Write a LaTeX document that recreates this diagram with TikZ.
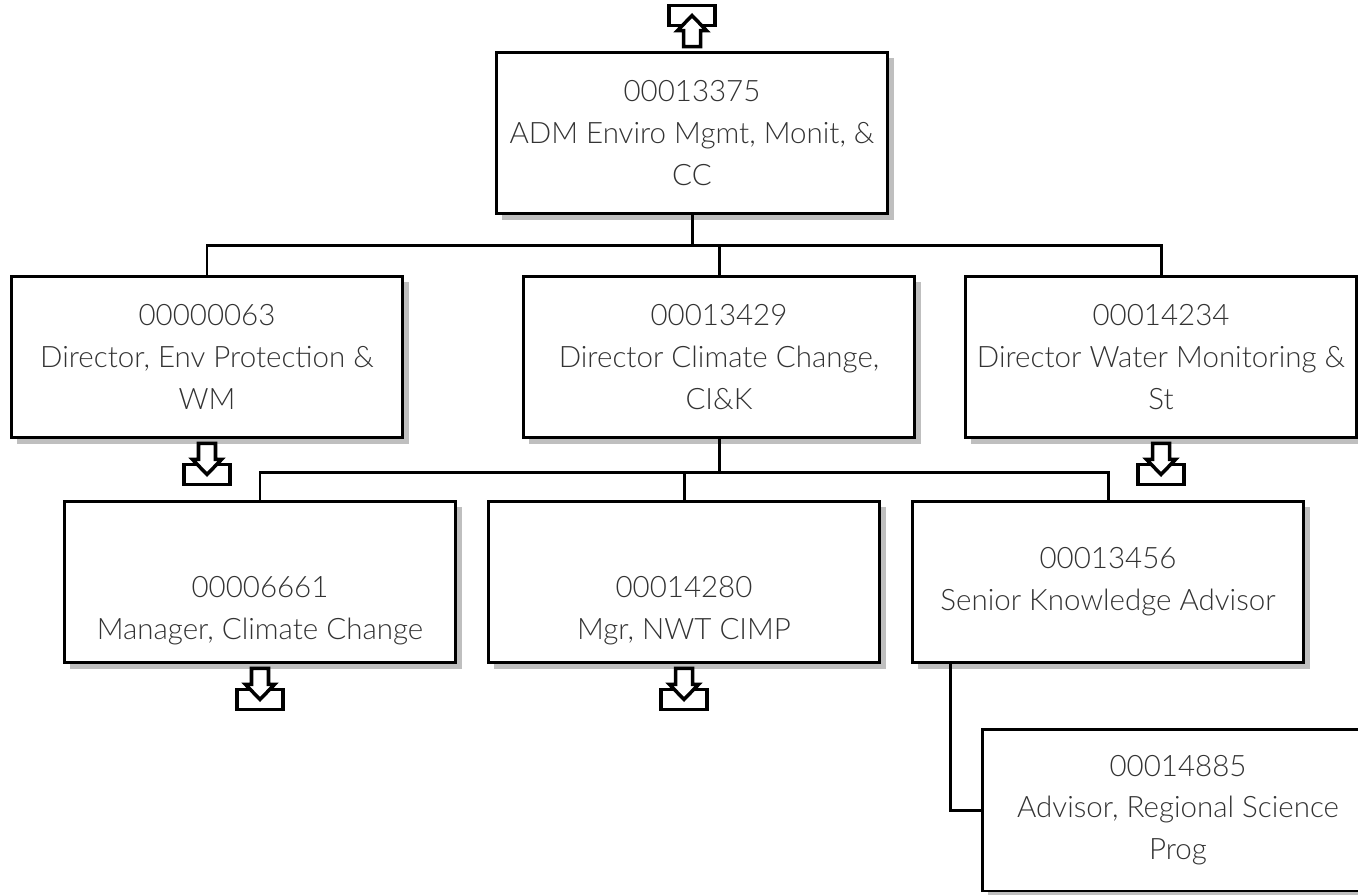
\documentclass[tikz,border=0pt]{standalone}
\usepackage{fontspec}
\setmainfont{Lato}[UprightFont=* Light]
\usetikzlibrary{shadows}

% collapsed-branch mark under (1) or over (-1) a position box
\newcommand{\foldmark}[2]{%
  \begin{scope}[shift={(#1)}, yscale=#2, line width=2pt]
    \draw[fill=white] (-23,25) rectangle (23,45);
    \draw[fill=white] (-8.5,4) -- (8.5,4) -- (8.5,20) -- (14.5,20) -- (0,35)
      -- (-14.5,20) -- (-8.5,20) -- cycle;
  \end{scope}}

\begin{document}
\begin{tikzpicture}[x=0.02cm, y=-0.02cm]
    \tikzstyle{posn} = [rectangle, draw, line width=1.7pt, fill=white,
      minimum width=7.84cm, minimum height=3.24cm, align=center, text=black!80,
      font=\fontsize{16.8}{23.8}\selectfont,
      drop shadow={shadow xshift=0.12cm, shadow yshift=-0.12cm, fill=black!25, opacity=1}]
    \tikzstyle{link} = [line width=1.7pt]

    \useasboundingbox (0,0) rectangle (1358,895);
    \clip (0,0) rectangle (1358,895);

    \node [posn] (p13375) at (692,133) {00013375\\ADM Enviro Mgmt, Monit, \&\\CC};
    \node [posn] (p0063) at (207,357) {00000063\\Director, Env Protection \&\\WM};
    \node [posn] (p13429) at (719,357) {00013429\\Director Climate Change,\\CI\&K};
    \node [posn] (p14234) at (1161,357) {00014234\\Director Water Monitoring \&\\St};
    \node [posn] (p6661) at (260,582) {\mbox{}\\[0.72cm]00006661\\Manager, Climate Change};
    \node [posn] (p14280) at (684,582) {\mbox{}\\[0.72cm]00014280\\Mgr, NWT CIMP};
    \node [posn] (p13456) at (1108,582) {00013456\\Senior Knowledge Advisor};
    \node [posn] (p14885) at (1178,810) {00014885\\Advisor, Regional Science\\Prog};

    \draw [link] (p13375.south) -- ++(0,30) coordinate (bus1);
    \draw [link] (bus1) -| (p0063.north);
    \draw [link] (bus1) -| (p13429.north);
    \draw [link] (bus1) -| (p14234.north);

    \draw [link] (p13429.south) -- ++(0,33) coordinate (bus2);
    \draw [link] (bus2) -| (p6661.north);
    \draw [link] (bus2) -| (p14280.north);
    \draw [link] (bus2) -| (p13456.north);

    \draw [link] ([xshift=0.8cm]p13456.south west) |- (p14885.west);

    \foldmark{p13375.north}{-1}
    \foldmark{p0063.south}{1}
    \foldmark{p14234.south}{1}
    \foldmark{p6661.south}{1}
    \foldmark{p14280.south}{1}
\end{tikzpicture}
\end{document}
